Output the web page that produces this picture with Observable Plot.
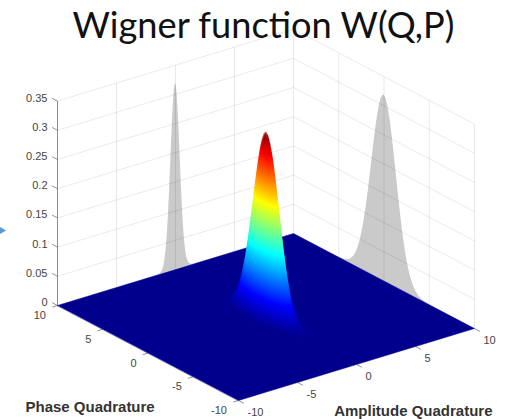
<!DOCTYPE html>
<html>
<head>
<meta charset="utf-8">
<script src="https://cdn.jsdelivr.net/npm/d3@7"></script>
<script src="https://cdn.jsdelivr.net/npm/@observablehq/plot@0.6"></script>
<style>html,body{margin:0;padding:0;background:#fff}svg{display:block}</style>
</head>
<body>
<div id="chart"></div>
<script>
// Values
const zTicks = [0, 0.05, 0.1, 0.15, 0.2, 0.25, 0.3, 0.35];
const zTickLabels = ["0", "0.05", "0.1", "0.15", "0.2", "0.25", "0.3", "0.35"];
const qTicks = [-10, -5, 0, 5, 10];
const pTicks = [-10, -5, 0, 5, 10];
const peakW = 0.318;
const qStep = 0.05;
const pStep = 0.0625;
// relative height of the ridge, from the centre outward (amplitude quadrature)
const qProfile = [1, .9918, .9675, .9284, .8763, .8136, .7430, .6675, .5898, .5126, .4382,
  .3685, .3048, .2480, .1985, .1562, .1210, .0921, .0690, .0509, .0369,
  .0263, .0184, .0127, .0086, .0058, .0038, .0024, .0016, .0010, .0006];
// relative height of the ridge, from the centre outward (phase quadrature)
const pProfile = [1, .9989, .9958, .9906, .9833, .9740, .9627, .9496, .9347, .9181, .8999,
  .8802, .8591, .8367, .8132, .7887, .7634, .7373, .7106, .6833, .6558,
  .6280, .6002, .5724, .5447, .5173, .4902, .4635, .4374, .4119, .3870,
  .3629, .3396, .3171, .2955, .2747, .2549, .2360, .2181, .2011, .1850,
  .1698, .1556, .1423, .1298, .1182, .1073, .0973, .0880, .0795, .0716,
  .0644, .0577, .0517, .0462, .0411, .0366, .0325, .0288, .0254, .0224,
  .0198, .0173, .0152, .0133, .0116, .0101, .0088, .0076, .0066, .0057,
  .0049, .0042, .0036, .0031, .0027, .0023, .0019, .0016, .0014, .0012];

// Oblique view of the (Q, P, W) box
const uOf = (q, p) => 11.8 * q - 9.05 * p;
const vOf = (q, p, w) => 3.6 * q + 4.75 * p + 584 * w;

const mirror = (a, step) => {
  const out = [];
  for (let i = a.length - 1; i > 0; i--) out.push({at: -i * step, rel: a[i]});
  a.forEach((rel, i) => out.push({at: i * step, rel}));
  return out;
};
const qLine = mirror(qProfile, qStep);
const pLine = mirror(pProfile, pStep);

// The surface is painted as stacked level sets of the W grid, lowest first.
const nq = qLine.length, np = pLine.length;
const grid2d = new Float64Array(nq * np);
for (let j = 0; j < np; j++) for (let i = 0; i < nq; i++) grid2d[i + j * nq] = peakW * qLine[i].rel * pLine[j].rel;
const colourLevels = d3.range(1, 160).map(k => k * peakW / 160);
const levelSets = d3.contours().size([nq, np]).smooth(true).thresholds(colourLevels)(grid2d);
const surface = [];
let ringId = 0;
levelSets.forEach(set => set.coordinates.forEach(poly => {
  const ring = poly[0];
  ringId++;
  ring.forEach(([gx, gy]) => {
    const q = qLine[0].at + (gx - 0.5) * qStep;
    const p = pLine[0].at + (gy - 0.5) * pStep;
    surface.push({id: ringId, W: set.value, u: uOf(q, p), v: vOf(q, p, set.value)});
  });
}));

const zTop = zTicks[zTicks.length - 1];
const qMin = qTicks[0], qMax = qTicks[qTicks.length - 1];
const pMin = pTicks[0], pMax = pTicks[pTicks.length - 1];

const floor = [[qMin, pMin], [qMax, pMin], [qMax, pMax], [qMin, pMax]].map(([q, p]) => ({u: uOf(q, p), v: vOf(q, p, 0)}));

const shadowQ = qLine.map(d => ({u: uOf(d.at, pMax), v0: vOf(d.at, pMax, 0), v1: vOf(d.at, pMax, peakW * d.rel)}));
const shadowP = pLine.map(d => ({u: uOf(qMax, d.at), v0: vOf(qMax, d.at, 0), v1: vOf(qMax, d.at, peakW * d.rel)}));

const seg = (a, b) => ({x1: uOf(a[0], a[1]), y1: vOf(a[0], a[1], a[2]), x2: uOf(b[0], b[1]), y2: vOf(b[0], b[1], b[2])});
const grid = [
  ...zTicks.slice(1).map(z => seg([qMin, pMax, z], [qMax, pMax, z])),
  ...zTicks.slice(1).map(z => seg([qMax, pMax, z], [qMax, pMin, z])),
  ...qTicks.slice(1).map(q => seg([q, pMax, 0], [q, pMax, zTop])),
  ...pTicks.slice(0, -1).map(p => seg([qMax, p, 0], [qMax, p, zTop]))
];
const zAxisLine = [seg([qMin, pMax, 0], [qMin, pMax, zTop])];
const tickMarks = [
  ...zTicks.map(z => seg([qMin, pMax, z], [qMin, pMax + 0.6, z])),
  ...pTicks.map(p => seg([qMin, p, 0], [qMin - 0.45, p, 0])),
  ...qTicks.map(q => seg([q, pMin, 0], [q, pMin - 0.6, 0]))
];
const zLabels = zTicks.map((z, i) => ({u: uOf(qMin, pMax), v: vOf(qMin, pMax, z), t: zTickLabels[i]}));
const pLabels = pTicks.map(p => ({u: uOf(qMin, p), v: vOf(qMin, p, 0), t: String(p)}));
const qLabels = qTicks.map(q => ({u: uOf(q, pMin), v: vOf(q, pMin, 0), t: String(q)}));

const axisFont = {fontFamily: "Liberation Sans", fontSize: 11, fill: "#444"};
const jetStops = [0, 0.125, 0.375, 0.625, 0.875, 1];
const jetColors = ["#00008c", "#0000ff", "#00ffff", "#ffff00", "#ff0000", "#800000"];

const chart = Plot.plot({
  width: 512,
  height: 419,
  margin: 0,
  x: {domain: [-265.5, 246.5], range: [0, 512], axis: null},
  y: {domain: [-102.5, 316.5], range: [419, 0], axis: null},
  color: {type: "linear", domain: jetStops.map(s => s * peakW), range: jetColors, clamp: true},
  marks: [
    Plot.area(shadowQ, {x1: "u", y1: "v0", y2: "v1", fill: "#cacaca"}),
    Plot.area(shadowP, {x1: "u", y1: "v0", y2: "v1", fill: "#cacaca"}),
    Plot.link(grid, {x1: "x1", y1: "y1", x2: "x2", y2: "y2", stroke: "#000", strokeOpacity: 0.085, strokeWidth: 1}),
    Plot.link(zAxisLine, {x1: "x1", y1: "y1", x2: "x2", y2: "y2", stroke: "#8c8c8c", strokeWidth: 1}),
    Plot.link(tickMarks, {x1: "x1", y1: "y1", x2: "x2", y2: "y2", stroke: "#777", strokeWidth: 0.8}),
    Plot.line(floor, {x: "u", y: "v", fill: "#00008c", stroke: "#00008c", strokeWidth: 0.5, curve: "linear-closed"}),
    Plot.line(surface, {x: "u", y: "v", z: "id", fill: "W", stroke: "none", curve: "linear-closed"}),
    Plot.text(zLabels, {x: "u", y: "v", text: "t", textAnchor: "end", dx: -10, dy: -3, ...axisFont}),
    Plot.text(pLabels, {x: "u", y: "v", text: "t", textAnchor: "end", dx: -11.5, dy: 10, ...axisFont}),
    Plot.text(qLabels, {x: "u", y: "v", text: "t", textAnchor: "start", dx: 9, dy: 11.5, ...axisFont}),
    Plot.text(["Wigner function W(Q,P)"], {frameAnchor: "top-left", dx: 72, dy: 12, text: d => d, textAnchor: "start", lineAnchor: "top", fontFamily: "Lato", fontSize: 36.2, fill: "#111"}),
    Plot.text(["Phase Quadrature"], {frameAnchor: "bottom-left", dx: 25, dy: -8, text: d => d, textAnchor: "start", fontFamily: "Liberation Sans", fontWeight: "bold", fontSize: 15, fill: "#333"}),
    Plot.text(["Amplitude Quadrature"], {frameAnchor: "bottom-right", dx: -20, dy: -4, text: d => d, textAnchor: "end", fontFamily: "Liberation Sans", fontWeight: "bold", fontSize: 15, fill: "#333"}),
    Plot.dot([0], {frameAnchor: "left", dx: 1, dy: 20.5, symbol: "triangle", rotate: 90, r: 3, fill: "#5b9bd5"})
  ]
});
document.getElementById("chart").append(chart);
</script>
</body>
</html>
